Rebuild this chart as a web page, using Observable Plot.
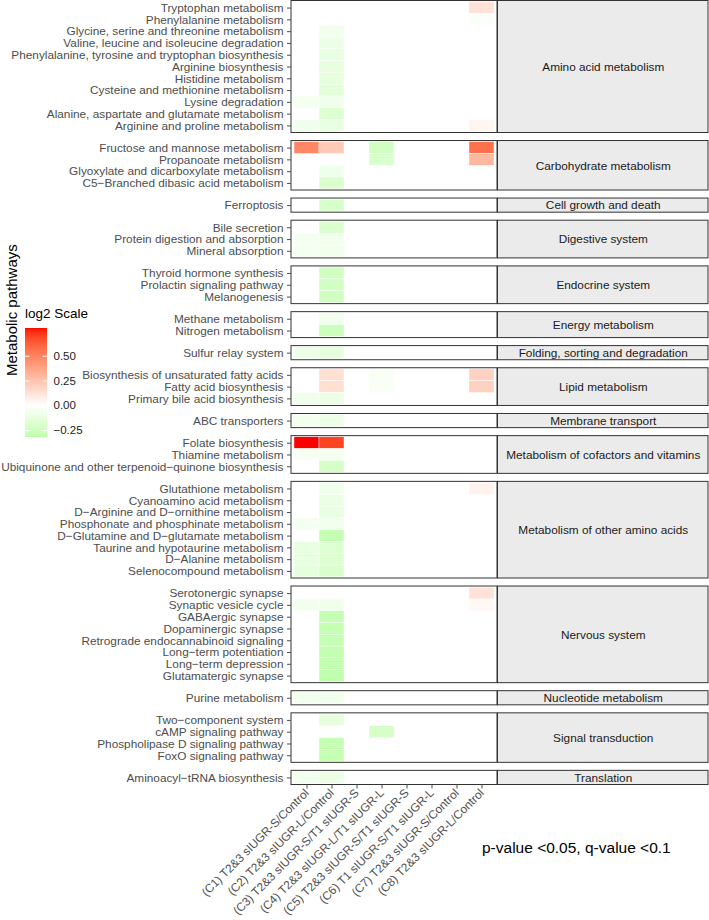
<!DOCTYPE html>
<html><head><meta charset="utf-8">
<script src="https://cdn.jsdelivr.net/npm/d3@7"></script>
<script src="https://cdn.jsdelivr.net/npm/@observablehq/plot@0.6"></script>
<style>
html,body{margin:0;padding:0;background:#fff;}
#wrap{position:relative;width:709px;height:920px;overflow:hidden;font-family:"Liberation Sans",Arial,Helvetica,sans-serif;}
#main{position:absolute;left:0;top:0;}
#strip{position:absolute;left:497px;top:0;}
#legend{position:absolute;left:0;top:320px;}
#legtitle{position:absolute;left:25px;top:306px;font-size:13.5px;color:#000;white-space:nowrap;}
#caption{position:absolute;left:482px;top:839px;font-size:15.5px;color:#000;white-space:nowrap;}
</style></head><body>
<div id="wrap"><div id="main"></div><div id="strip"></div><div id="legtitle">log2 Scale</div><div id="legend"></div><div id="caption">p-value &lt;0.05, q-value &lt;0.1</div></div>
<script>
// ---------- data ----------
const comparisons = [
  "(C1) T2&3 sIUGR-S/Control",
  "(C2) T2&3 sIUGR-L/Control",
  "(C3) T2&3 sIUGR-S/T1 sIUGR-S",
  "(C4) T2&3 sIUGR-L/T1 sIUGR-L",
  "(C5) T2&3 sIUGR-S/T1 sIUGR-S",
  "(C6) T1 sIUGR-S/T1 sIUGR-L",
  "(C7) T2&3 sIUGR-S/Control",
  "(C8) T2&3 sIUGR-L/Control"
];

const groupNames = [
  "Amino acid metabolism", "Carbohydrate metabolism", "Cell growth and death", "Digestive system",
  "Endocrine system", "Energy metabolism", "Folding, sorting and degradation", "Lipid metabolism",
  "Membrane transport", "Metabolism of cofactors and vitamins", "Metabolism of other amino acids",
  "Nervous system", "Nucleotide metabolism", "Signal transduction", "Translation"
];

const groupPathways = [
  ["Tryptophan metabolism", "Phenylalanine metabolism", "Glycine, serine and threonine metabolism",
   "Valine, leucine and isoleucine degradation", "Phenylalanine, tyrosine and tryptophan biosynthesis",
   "Arginine biosynthesis", "Histidine metabolism", "Cysteine and methionine metabolism",
   "Lysine degradation", "Alanine, aspartate and glutamate metabolism", "Arginine and proline metabolism"],
  ["Fructose and mannose metabolism", "Propanoate metabolism", "Glyoxylate and dicarboxylate metabolism",
   "C5\u2212Branched dibasic acid metabolism"],
  ["Ferroptosis"],
  ["Bile secretion", "Protein digestion and absorption", "Mineral absorption"],
  ["Thyroid hormone synthesis", "Prolactin signaling pathway", "Melanogenesis"],
  ["Methane metabolism", "Nitrogen metabolism"],
  ["Sulfur relay system"],
  ["Biosynthesis of unsaturated fatty acids", "Fatty acid biosynthesis", "Primary bile acid biosynthesis"],
  ["ABC transporters"],
  ["Folate biosynthesis", "Thiamine metabolism", "Ubiquinone and other terpenoid\u2212quinone biosynthesis"],
  ["Glutathione metabolism", "Cyanoamino acid metabolism", "D\u2212Arginine and D\u2212ornithine metabolism",
   "Phosphonate and phosphinate metabolism", "D\u2212Glutamine and D\u2212glutamate metabolism",
   "Taurine and hypotaurine metabolism", "D\u2212Alanine metabolism", "Selenocompound metabolism"],
  ["Serotonergic synapse", "Synaptic vesicle cycle", "GABAergic synapse", "Dopaminergic synapse",
   "Retrograde endocannabinoid signaling", "Long\u2212term potentiation", "Long\u2212term depression",
   "Glutamatergic synapse"],
  ["Purine metabolism"],
  ["Two\u2212component system", "cAMP signaling pathway", "Phospholipase D signaling pathway", "FoxO signaling pathway"],
  ["Aminoacyl\u2212tRNA biosynthesis"]
];

// log2 values per comparison, aligned with the 54 pathways above (null = not significant)
const valuesC1 = [
  null, null, null, null, null, null, null, null, -0.06, null, -0.08,   // amino acid
  0.48, null, null, null,                                              // carbohydrate
  null,                                                                // cell growth
  null, -0.06, -0.06,                                                  // digestive
  null, null, null,                                                    // endocrine
  null, null,                                                          // energy
  -0.10,                                                               // folding
  null, null, -0.08,                                                   // lipid
  -0.07,                                                               // membrane
  0.78, -0.05, null,                                                   // cofactors
  null, null, null, -0.06, null, -0.12, -0.13, -0.14,                  // other amino acids
  null, -0.07, null, null, null, null, null, null,                     // nervous
  -0.07,                                                               // nucleotide
  null, null, null, null,                                              // signal
  -0.07                                                                // translation
];
const valuesC2 = [
  null, null, -0.07, -0.10, -0.12, -0.13, -0.13, -0.15, -0.08, -0.18, -0.12,
  0.22, null, -0.08, -0.19,
  -0.21,
  -0.19, -0.07, -0.07,
  -0.24, -0.24, -0.24,
  -0.07, -0.27,
  -0.14,
  0.13, 0.13, -0.10,
  -0.09,
  0.69, -0.06, -0.22,
  -0.08, -0.10, -0.12, -0.07, -0.30, -0.18, -0.18, -0.20,
  null, -0.08, -0.30, -0.30, -0.30, -0.31, -0.31, -0.32,
  -0.07,
  -0.13, null, -0.30, -0.30,
  -0.09
];
const valuesC3 = [];   // no significant pathways
const valuesC4 = [
  null, null, null, null, null, null, null, null, null, null, null,
  -0.24, -0.20, null, null,
  null,
  null, null, null,
  null, null, null,
  null, null,
  null,
  -0.04, -0.04, null,
  null,
  null, null, null,
  null, null, null, null, null, null, null, null,
  null, null, null, null, null, null, null, null,
  null,
  null, -0.22, null, null,
  null
];
const valuesC5 = [];
const valuesC6 = [];
const valuesC7 = [];
const valuesC8 = [
  0.12, -0.02, null, null, null, null, null, null, null, null, 0.04,
  0.56, 0.29, null, null,
  null,
  null, null, null,
  null, null, null,
  null, null,
  null,
  0.19, 0.19, null,
  null,
  null, null, null,
  0.05, null, null, null, null, null, null, null,
  0.12, 0.03, null, null, null, null, null, null,
  null,
  null, null, null, null,
  null
];
const legendTicks = [-0.25, 0, 0.25, 0.5];

// ---------- layout helpers ----------
const FONT = '"Liberation Sans", Arial, Helvetica, sans-serif';
const gapUnits = 0.68, padUnits = 0.1;
const rows = [], panels = [];
let cursor = 0;
groupNames.forEach((g, gi) => {
  const list = groupPathways[gi];
  const top = cursor;
  list.forEach((p, i) => rows.push({pathway: p, group: g, y1: top + padUnits + i, y2: top + padUnits + i + 1, yc: top + padUnits + i + 0.5}));
  const bottom = top + list.length + 2 * padUnits;
  panels.push({group: g, top, bottom, mid: (top + bottom) / 2});
  cursor = bottom + gapUnits;
});
const total = cursor - gapUnits;
const nameAt = new Map(rows.map(r => [r.yc, r.pathway]));

const columns = [valuesC1, valuesC2, valuesC3, valuesC4, valuesC5, valuesC6, valuesC7, valuesC8];
const cells = [];
columns.forEach((vals, ci) => vals.forEach((v, ri) => {
  if (v != null) cells.push({comp: comparisons[ci], value: v, ...rows[ri]});
}));

const vmax = d3.max(cells, d => Math.abs(d.value));
const [dmin, dmax] = d3.extent(cells, d => d.value);
const colorScale = {type: "linear", domain: [-vmax, 0, vmax], range: ["#00FF00", "#FFFFFF", "#FF0000"], interpolate: "lab"};

const H = 920, MT = 0.5, MB = 135.5;

// ---------- main heatmap ----------
const main = Plot.plot({
  width: 497, height: H, marginLeft: 291, marginRight: 0, marginTop: MT, marginBottom: MB,
  style: {fontFamily: FONT, fontSize: "11.8px", background: "transparent", overflow: "visible"},
  x: {type: "band", domain: comparisons, paddingInner: 0, paddingOuter: 0.1, label: null},
  y: {type: "linear", domain: [0, total], reverse: true, label: null},
  color: colorScale,
  marks: [
    Plot.barY(cells, {x: "comp", y1: "y1", y2: "y2", fill: "value", stroke: "white", strokeWidth: 0.4}),
    Plot.rect(panels, {y1: "top", y2: "bottom", fill: "none", stroke: "#333333", strokeWidth: 1}),
    Plot.axisY(rows.map(d => d.yc), {tickFormat: v => nameAt.get(v), tickSize: 4, tickPadding: 4, fontSize: 11.8, color: "#4D4D4D", label: null}),
    Plot.axisX({tickRotate: -45, tickSize: 4, tickPadding: 2, fontSize: 11.8, color: "#4D4D4D", label: null}),
    Plot.text(["Metabolic pathways"], {frameAnchor: "left", rotate: -90, dx: -279, dy: -17, fontSize: 15, fill: "#000"})
  ]
});
document.getElementById("main").appendChild(main);

// ---------- facet strips ----------
const strip = Plot.plot({
  width: 212, height: H, marginLeft: 0.5, marginRight: 1, marginTop: MT, marginBottom: MB,
  style: {fontFamily: FONT, background: "transparent", overflow: "visible"},
  y: {type: "linear", domain: [0, total], reverse: true, axis: null},
  marks: [
    Plot.rect(panels, {y1: "top", y2: "bottom", fill: "#EBEBEB", stroke: "#333333", strokeWidth: 1}),
    Plot.text(panels, {y: "mid", text: "group", frameAnchor: "middle", fontSize: 11.8, fill: "#1A1A1A"})
  ]
});
document.getElementById("strip").appendChild(strip);

// ---------- colour legend ----------
const rampStep = (dmax - dmin) / 200;
const ramp = d3.range(dmin, dmax, rampStep);
const legend = Plot.plot({
  width: 100, height: 127, marginLeft: 25, marginRight: 53, marginTop: 8, marginBottom: 10,
  style: {fontFamily: FONT, background: "transparent", overflow: "visible"},
  y: {type: "linear", domain: [dmin, dmax], label: null},
  color: colorScale,
  marks: [
    Plot.rect(ramp, {y1: d => d, y2: d => Math.min(d + rampStep * 1.5, dmax), fill: d => d, shapeRendering: "crispEdges"}),
    Plot.tickY(legendTicks, {y: d => d, stroke: "white", strokeWidth: 1, insetRight: 17.6}),
    Plot.tickY(legendTicks, {y: d => d, stroke: "white", strokeWidth: 1, insetLeft: 17.6}),
    Plot.axisY(legendTicks, {anchor: "right", tickSize: 0, tickPadding: 6, tickFormat: d3.format(".2f"), fontSize: 11.5, color: "#1A1A1A", label: null})
  ]
});
document.getElementById("legend").appendChild(legend);
</script>
</body></html>
